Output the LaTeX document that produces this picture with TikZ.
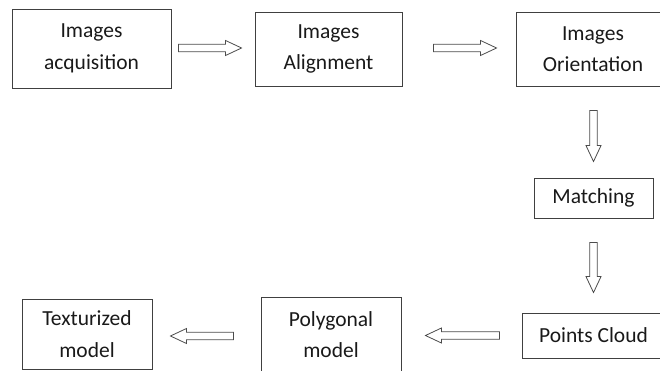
\documentclass[tikz,border=0pt]{standalone}
\usepackage{fontspec}
\setmainfont{Carlito}
\usetikzlibrary{calc}
\newcommand\bodyfont{\fontsize{21.5}{31.5}\selectfont}
\tikzset{
  box/.style={draw=black!75, line width=0.9pt, inner sep=0pt, align=center, font=\bodyfont, text=black!90},
  blockarrow/.style={draw=black!70, line width=0.8pt, fill=white, line join=miter}
}
% block arrow from #1 (tail) to #2 (tip)
\newcommand\blockarr[2]{%
  \draw[blockarrow] let \p1=#1, \p2=#2,
    \n1={veclen(\x2-\x1,\y2-\y1)}, \n2={(\x2-\x1)/\n1}, \n3={(\y2-\y1)/\n1} in
    ({\x1-3.75*\n3},{\y1+3.75*\n2})
    -- ({\x2-16*\n2-3.75*\n3},{\y2-16*\n3+3.75*\n2})
    -- ({\x2-16*\n2-7.5*\n3},{\y2-16*\n3+7.5*\n2})
    -- (\p2)
    -- ({\x2-16*\n2+7.5*\n3},{\y2-16*\n3-7.5*\n2})
    -- ({\x2-16*\n2+3.75*\n3},{\y2-16*\n3-3.75*\n2})
    -- ({\x1+3.75*\n3},{\y1-3.75*\n2}) -- cycle;}
\begin{document}
\begin{tikzpicture}[x=1pt,y=-1pt]
\useasboundingbox (0,0) rectangle (660,371);
\clip (0,0) rectangle (660,371);
\node[box, minimum width=159, minimum height=79] (acq) at (91.5,48.5) {Images\\acquisition};
\node[box, minimum width=147, minimum height=74] (ali) at (328.5,49) {Images\\Alignment};
\node[box, minimum width=154, minimum height=74] (ori) at (593,49) {Images\\Orientation};
\node[box, minimum width=119, minimum height=40] (mat) at (593.5,198) {Matching};
\node[box, minimum width=143, minimum height=45] (pts) at (593.5,335.5) {Points Cloud};
\node[box, minimum width=140, minimum height=75] (pol) at (331,334.5) {Polygonal\\model};
\node[box, minimum width=130, minimum height=70] (tex) at (87,334) {Texturized\\model};
\blockarr{($(acq.east)+(7,-0.5)$)}{($(acq.east -| ali.west)+(-13,-0.5)$)}
\blockarr{($(ali.east)+(31,-1)$)}{($(ali.east -| ori.west)+(-19,-1)$)}
\blockarr{($(ori.south -| mat.north)+(0,24)$)}{($(mat.north)+(0,-16)$)}
\blockarr{($(mat.south)+(0,24)$)}{($(mat.south |- pts.north)+(0,-20)$)}
\blockarr{($(pts.west)+(-22,0)$)}{($(pts.west -| pol.east)+(24,0)$)}
\blockarr{($(pol.west)+(-27,1.5)$)}{($(pol.west -| tex.east)+(18,1.5)$)}
\end{tikzpicture}
\end{document}
